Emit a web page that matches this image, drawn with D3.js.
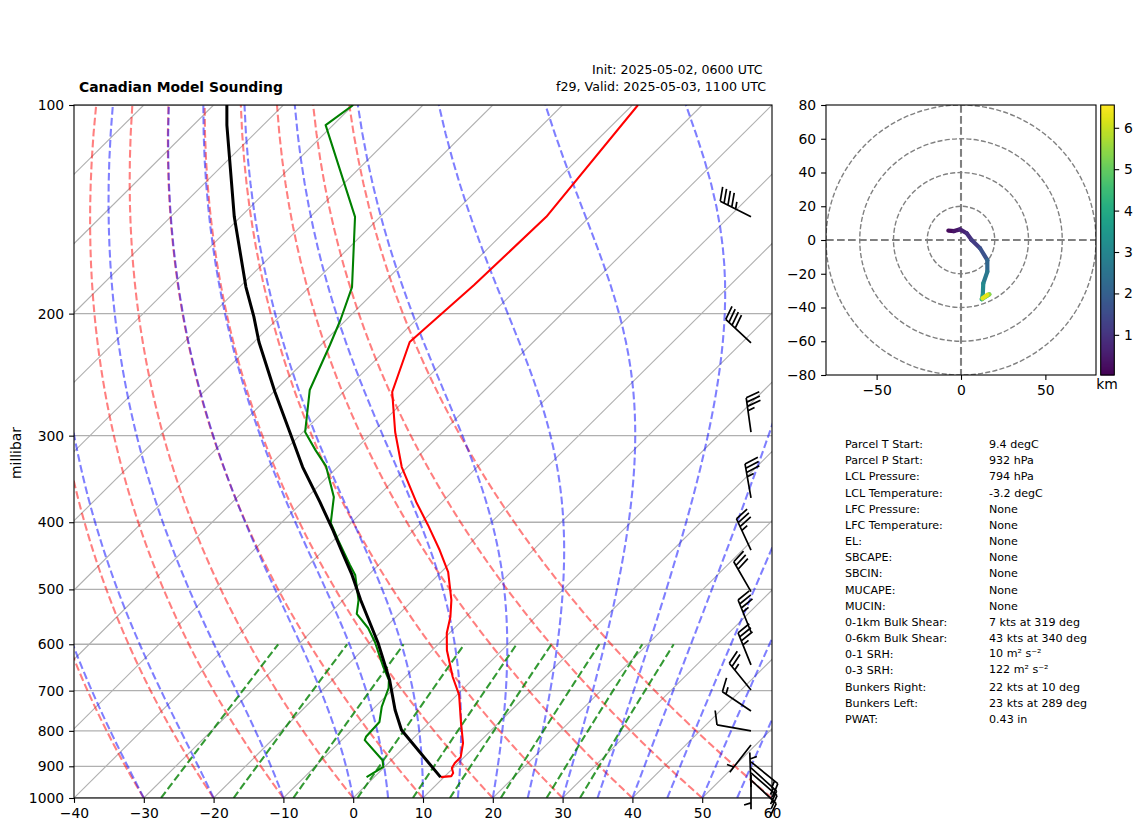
<!DOCTYPE html>
<html>
<head>
<meta charset="utf-8">
<script src="https://cdn.jsdelivr.net/npm/d3@7"></script>
<style>
  body { margin: 0; background: #fff; }
  text { font-family: "DejaVu Sans", sans-serif; fill: #000; }
  .tick text { font-size: 13.9px; }
  .tick line, .domain { stroke: #000; stroke-width: 1.1; }
</style>
</head>
<body>
<svg id="chart" width="1142" height="832"></svg>
<script>
// sounding profiles (hPa, degC)
const tempP = [100, 145, 181.9, 219.8, 259.5, 296.4, 333, 373.9, 403.6, 438.7, 472, 518, 548, 578, 612, 669, 710, 779, 833, 873, 890, 905, 920, 930, 933];
const tempC = [-59.2, -56.2, -56.7, -57.7, -53, -46.8, -40.8, -33.7, -28.7, -23.4, -19, -14.5, -12.2, -10.4, -7.9, -3.2, 0.3, 4.6, 7.8, 9.5, 9.5, 9.8, 10.7, 10.9, 9.5];
const dewP = [100, 106.9, 145, 183.1, 204.3, 222, 257.8, 296.4, 314.8, 331.9, 367.9, 401, 424.3, 461, 476.6, 518, 542.5, 568.4, 595.5, 647, 675.8, 693.9, 739, 777, 816, 825, 882, 902, 933];
const dewC = [-100, -101.05, -83.6, -73.9, -70.8, -68.7, -65.1, -59.7, -55.6, -51.8, -46.2, -42.9, -39.4, -34.1, -31.9, -27.8, -26.05, -22.4, -19.4, -14.6, -11.9, -10.8, -9.05, -7.2, -7, -6.7, -1.25, -0.16, -1.1];
const parcelP = [100, 106.9, 145, 183.1, 202, 219.8, 259.5, 296.4, 333, 373.9, 410.4, 438.7, 476.6, 518, 597.5, 675.8, 746.4, 797.7, 933];
const parcelC = [-118.1, -115.2, -100.9, -89.1, -83.7, -79.3, -69.8, -61.9, -55, -47.5, -41.6, -37.5, -32.35, -27.5, -18.8, -11.8, -6.7, -2.9, 9.5];

// wind barbs
const windP = [145, 220.4, 296.4, 369, 438.7, 503.8, 576, 642.6, 698.6, 749, 800, 838.5, 887, 905, 920, 926, 942, 964];
const windDir = [297, 313, 352, 350, 335, 330, 338, 338, 321, 304, 280, 218, 129, 132, 131, 180, 133, 358];
const windSpd = [45, 40, 35, 35, 35, 30, 35, 35, 25, 15, 10, 5, 15, 15, 10, 5, 10, 5];

// hodograph
const hodoU = [-7.5, -4.1, -0.6, 3.4, 6.3, 11.3, 15.6, 15.6, 13.2, 12.9, 12.3, 16.8, 12.8, 15.5];
const hodoV = [5.5, 5.3, 6.3, 4, 0, -4.9, -11.9, -18.8, -25.7, -32.6, -35.1, -32.2, -34.5, -32.5];
const hodoH = [0.1, 0.3, 0.5, 0.8, 1, 1.4, 1.9, 2.4, 2.9, 3.3, 3.9, 5, 6, 6.5];

// background lines
const isotherms = d3.range(-130, 70, 10);
const dryStart = d3.range(-30, 70, 10);
const moistStart = [-30, -20, -10, 0, 5, 10, 15, 20, 25, 30, 35, 40, 45, 50, 55, 60, 65, 70, 75, 80];
const mixingRatios = [0.0004, 0.001, 0.002, 0.004, 0.007, 0.01, 0.016, 0.024, 0.032];
const pressureTicks = [1000, 900, 800, 700, 600, 500, 400, 300, 200, 100];
const tempTicks = d3.range(-40, 70, 10);

// stats block
const statLabels = ['Parcel T Start:', 'Parcel P Start:', 'LCL Pressure:', 'LCL Temperature:', 'LFC Pressure:', 'LFC Temperature:', 'EL:', 'SBCAPE:', 'SBCIN:', 'MUCAPE:', 'MUCIN:', '0-1km Bulk Shear:', '0-6km Bulk Shear:', '0-1 SRH:', '0-3 SRH:', 'Bunkers Right:', 'Bunkers Left:', 'PWAT:'];
const statValues = ['9.4 degC', '932 hPa', '794 hPa', '-3.2 degC', 'None', 'None', 'None', 'None', 'None', 'None', 'None', '7 kts at 319 deg', '43 kts at 340 deg', '10 m² s⁻²', '122 m² s⁻²', '22 kts at 10 deg', '23 kts at 289 deg', '0.43 in'];

const svg = d3.select('#chart');

// Skew-T scales
const xScale = d3.scaleLinear().domain([-40, 60]).range([74, 772]);
const yScale = d3.scaleLog().domain([1000, 100]).range([798, 105]);
const skewX = (t, p) => xScale(t + 100 * Math.log10(1000 / p));
const skewLine = d3.line().x((d) => skewX(d[1], d[0])).y((d) => yScale(d[0]));

svg.append('defs').append('clipPath').attr('id', 'skewClip')
  .append('rect').attr('x', 74).attr('y', 105).attr('width', 698).attr('height', 693);
svg.select('defs').append('clipPath').attr('id', 'hodoClip')
  .append('rect').attr('x', 826).attr('y', 105).attr('width', 270).attr('height', 270);

const plot = svg.append('g').attr('clip-path', 'url(#skewClip)');

// Grid
plot.append('g').selectAll('line').data(pressureTicks).join('line')
  .attr('x1', 74).attr('x2', 772)
  .attr('y1', (d) => yScale(d)).attr('y2', (d) => yScale(d))
  .attr('stroke', '#b0b0b0').attr('stroke-width', 1.3);

plot.append('g').selectAll('path').data(isotherms).join('path')
  .attr('d', (t) => skewLine([[1000, t], [100, t]]))
  .attr('fill', 'none').attr('stroke', '#b0b0b0').attr('stroke-width', 1.1);

// Thermodynamic background
const levels = d3.range(1000, 99, -10);
const Rd = 287.05, Cp = 1005, Lv = 2.501e6, eps = 0.622;

const dryCurve = (t0) => levels.map((p) => [p, (t0 + 273.15) * Math.pow(p / 1000, Rd / Cp) - 273.15]);

const moistSlope = (T, p) => {
  const es = 6.112 * Math.exp(17.67 * (T - 273.15) / (T - 29.65));
  const rs = eps * es / (p - es);
  return (Rd * T + Lv * rs) / (Cp + Lv * Lv * rs * eps / (Rd * T * T));
};
const moistCurve = (t0) => {
  let T = t0 + 273.15;
  return levels.map((p, i) => {
    if (i > 0) {
      const pPrev = levels[i - 1];
      const h = Math.log(p / pPrev);
      const k1 = moistSlope(T, pPrev);
      const k2 = moistSlope(T + 0.5 * h * k1, pPrev * Math.exp(0.5 * h));
      const k3 = moistSlope(T + 0.5 * h * k2, pPrev * Math.exp(0.5 * h));
      const k4 = moistSlope(T + h * k3, p);
      T += (h / 6) * (k1 + 2 * k2 + 2 * k3 + k4);
    }
    return [p, T - 273.15];
  });
};
const mixingCurve = (w) => d3.range(1000, 599, -20).map((p) => {
  const val = Math.log(w * p / (eps + w) / 6.112);
  return [p, 243.5 * val / (17.67 - val)];
});

const bgDash = '7.7 3.3';
const bgLines = (data, curve, colour, opacity) => plot.append('g').selectAll('path').data(data).join('path')
  .attr('d', (d) => skewLine(curve(d)))
  .attr('fill', 'none')
  .attr('stroke', colour)
  .attr('stroke-opacity', opacity)
  .attr('stroke-width', 2.08)
  .attr('stroke-dasharray', bgDash);

bgLines(dryStart, dryCurve, 'red', 0.5);
bgLines(moistStart, moistCurve, 'blue', 0.5);
bgLines(mixingRatios, mixingCurve, 'green', 0.8);

// Profiles
const profile = (pres, vals, colour, width) => plot.append('path')
  .datum(pres.map((p, i) => [p, vals[i]]))
  .attr('d', skewLine)
  .attr('fill', 'none')
  .attr('stroke', colour)
  .attr('stroke-width', width)
  .attr('stroke-linejoin', 'round');

profile(tempP, tempC, 'red', 2.08);
profile(dewP, dewC, 'green', 2.08);
profile(parcelP, parcelC, 'black', 3);

// Barbs
const barbX = 751;
const barbLen = 34.5;
const barbPath = (p, dir, spd) => {
  const by = yScale(p);
  const rad = (dir * Math.PI) / 180;
  const ux = Math.sin(rad), uy = -Math.cos(rad);
  const nx = -uy, ny = ux;
  const at = (o, h) => [barbX + ux * o + nx * h, by + uy * o + ny * h];
  const height = barbLen * 0.4, slant = barbLen * 0.125, spacing = barbLen * 0.125;
  let d = `M${at(0, 0)}L${at(barbLen, 0)}`;
  const full = Math.floor(spd / 10), half = spd % 10 >= 5;
  let offset = barbLen;
  d3.range(full).forEach(() => {
    d += `M${at(offset, 0)}L${at(offset + slant, height)}`;
    offset -= spacing;
  });
  if (half) {
    if (!full) offset -= 1.5 * spacing;
    d += `M${at(offset, 0)}L${at(offset + slant / 2, height / 2)}`;
  }
  return d;
};
svg.append('g').selectAll('path').data(windP).join('path')
  .attr('d', (p, i) => barbPath(p, windDir[i], windSpd[i]))
  .attr('fill', 'none').attr('stroke', '#000').attr('stroke-width', 1.7);

// Axes
svg.append('rect').attr('x', 74).attr('y', 105).attr('width', 698).attr('height', 693)
  .attr('fill', 'none').attr('stroke', '#000').attr('stroke-width', 1.1);

const bottomAxis = svg.append('g').attr('transform', 'translate(0,798)')
  .call(d3.axisBottom(xScale).tickValues(tempTicks).tickSize(4.9).tickPadding(4.9).tickFormat(d3.format('d')));
const leftAxis = svg.append('g').attr('transform', 'translate(74,0)')
  .call(d3.axisLeft(yScale).tickValues(pressureTicks).tickSize(4.9).tickPadding(4.9).tickFormat(d3.format('d')));
bottomAxis.select('.domain').remove();
leftAxis.select('.domain').remove();

svg.append('text').attr('transform', 'translate(21,453) rotate(-90)')
  .attr('text-anchor', 'middle').attr('font-size', 13.9).text('millibar');

// Titles
svg.append('text').attr('x', 79).attr('y', 92).attr('font-size', 13.9).attr('font-weight', 'bold').text('Canadian Model Sounding');
svg.append('text').attr('x', 592).attr('y', 74).attr('font-size', 12.6).text('Init: 2025-05-02, 0600 UTC');
svg.append('text').attr('x', 556).attr('y', 91).attr('font-size', 12.65).text('f29, Valid: 2025-05-03, 1100 UTC');

// Hodograph
const hodoX = d3.scaleLinear().domain([-80, 80]).range([826, 1096]);
const hodoY = d3.scaleLinear().domain([-80, 80]).range([375, 105]);
const hodo = svg.append('g').attr('clip-path', 'url(#hodoClip)');

hodo.append('g').selectAll('circle').data([20, 40, 60, 80]).join('circle')
  .attr('cx', hodoX(0)).attr('cy', hodoY(0))
  .attr('r', (d) => hodoX(d) - hodoX(0))
  .attr('fill', 'none').attr('stroke', '#808080').attr('stroke-width', 1.39).attr('stroke-dasharray', '5.1 2.2');

hodo.append('line').attr('x1', hodoX(0)).attr('x2', hodoX(0)).attr('y1', 105).attr('y2', 375)
  .attr('stroke', '#808080').attr('stroke-width', 2.08).attr('stroke-dasharray', bgDash);
hodo.append('line').attr('x1', 826).attr('x2', 1096).attr('y1', hodoY(0)).attr('y2', hodoY(0))
  .attr('stroke', '#808080').attr('stroke-width', 2.08).attr('stroke-dasharray', bgDash);

const heightDomain = [0.03, 6.55];
const heightColour = d3.scaleSequential(d3.interpolateViridis).domain(heightDomain);

hodo.append('g').selectAll('line').data(d3.range(hodoU.length - 1)).join('line')
  .attr('x1', (i) => hodoX(hodoU[i])).attr('y1', (i) => hodoY(hodoV[i]))
  .attr('x2', (i) => hodoX(hodoU[i + 1])).attr('y2', (i) => hodoY(hodoV[i + 1]))
  .attr('stroke', (i) => heightColour((hodoH[i] + hodoH[i + 1]) / 2))
  .attr('stroke-width', 4.2).attr('stroke-linecap', 'round');

svg.append('rect').attr('x', 826).attr('y', 105).attr('width', 270).attr('height', 270)
  .attr('fill', 'none').attr('stroke', '#000').attr('stroke-width', 1.1);

const hodoBottom = svg.append('g').attr('transform', 'translate(0,375)')
  .call(d3.axisBottom(hodoX).tickValues([-50, 0, 50]).tickSize(4.9).tickPadding(4.9));
const hodoLeft = svg.append('g').attr('transform', 'translate(826,0)')
  .call(d3.axisLeft(hodoY).tickValues(d3.range(-80, 81, 20)).tickSize(4.9).tickPadding(4.9));
hodoBottom.select('.domain').remove();
hodoLeft.select('.domain').remove();

// Colorbar
const cbarY = d3.scaleLinear().domain(heightDomain).range([375, 105]);
const cbarSteps = d3.range(0, 270);
svg.append('g').selectAll('rect').data(cbarSteps).join('rect')
  .attr('x', 1100.7).attr('width', 13.6)
  .attr('y', (i) => 105 + i).attr('height', 1.5)
  .attr('fill', (i) => heightColour(cbarY.invert(105 + i + 0.5)));
svg.append('rect').attr('x', 1100.7).attr('y', 105).attr('width', 13.6).attr('height', 270)
  .attr('fill', 'none').attr('stroke', '#000').attr('stroke-width', 1.1);
const cbarAxis = svg.append('g').attr('transform', 'translate(1114.3,0)')
  .call(d3.axisRight(cbarY).tickValues([1, 2, 3, 4, 5, 6]).tickSize(4.9).tickPadding(4.9).tickFormat(d3.format('d')));
cbarAxis.select('.domain').remove();
svg.append('text').attr('x', 1107).attr('y', 389).attr('text-anchor', 'middle').attr('font-size', 13.9).text('km');

// Stats text
const statY = (i) => 448 + i * 16.17;
svg.append('g').selectAll('text').data(statLabels).join('text')
  .attr('x', 845).attr('y', (d, i) => statY(i)).attr('font-size', 11.1).text((d) => d);
svg.append('g').selectAll('text').data(statValues).join('text')
  .attr('x', 989).attr('y', (d, i) => statY(i) - (d.includes('²') ? 1.5 : 0)).attr('font-size', 11.1).text((d) => d);
</script>
</body>
</html>
